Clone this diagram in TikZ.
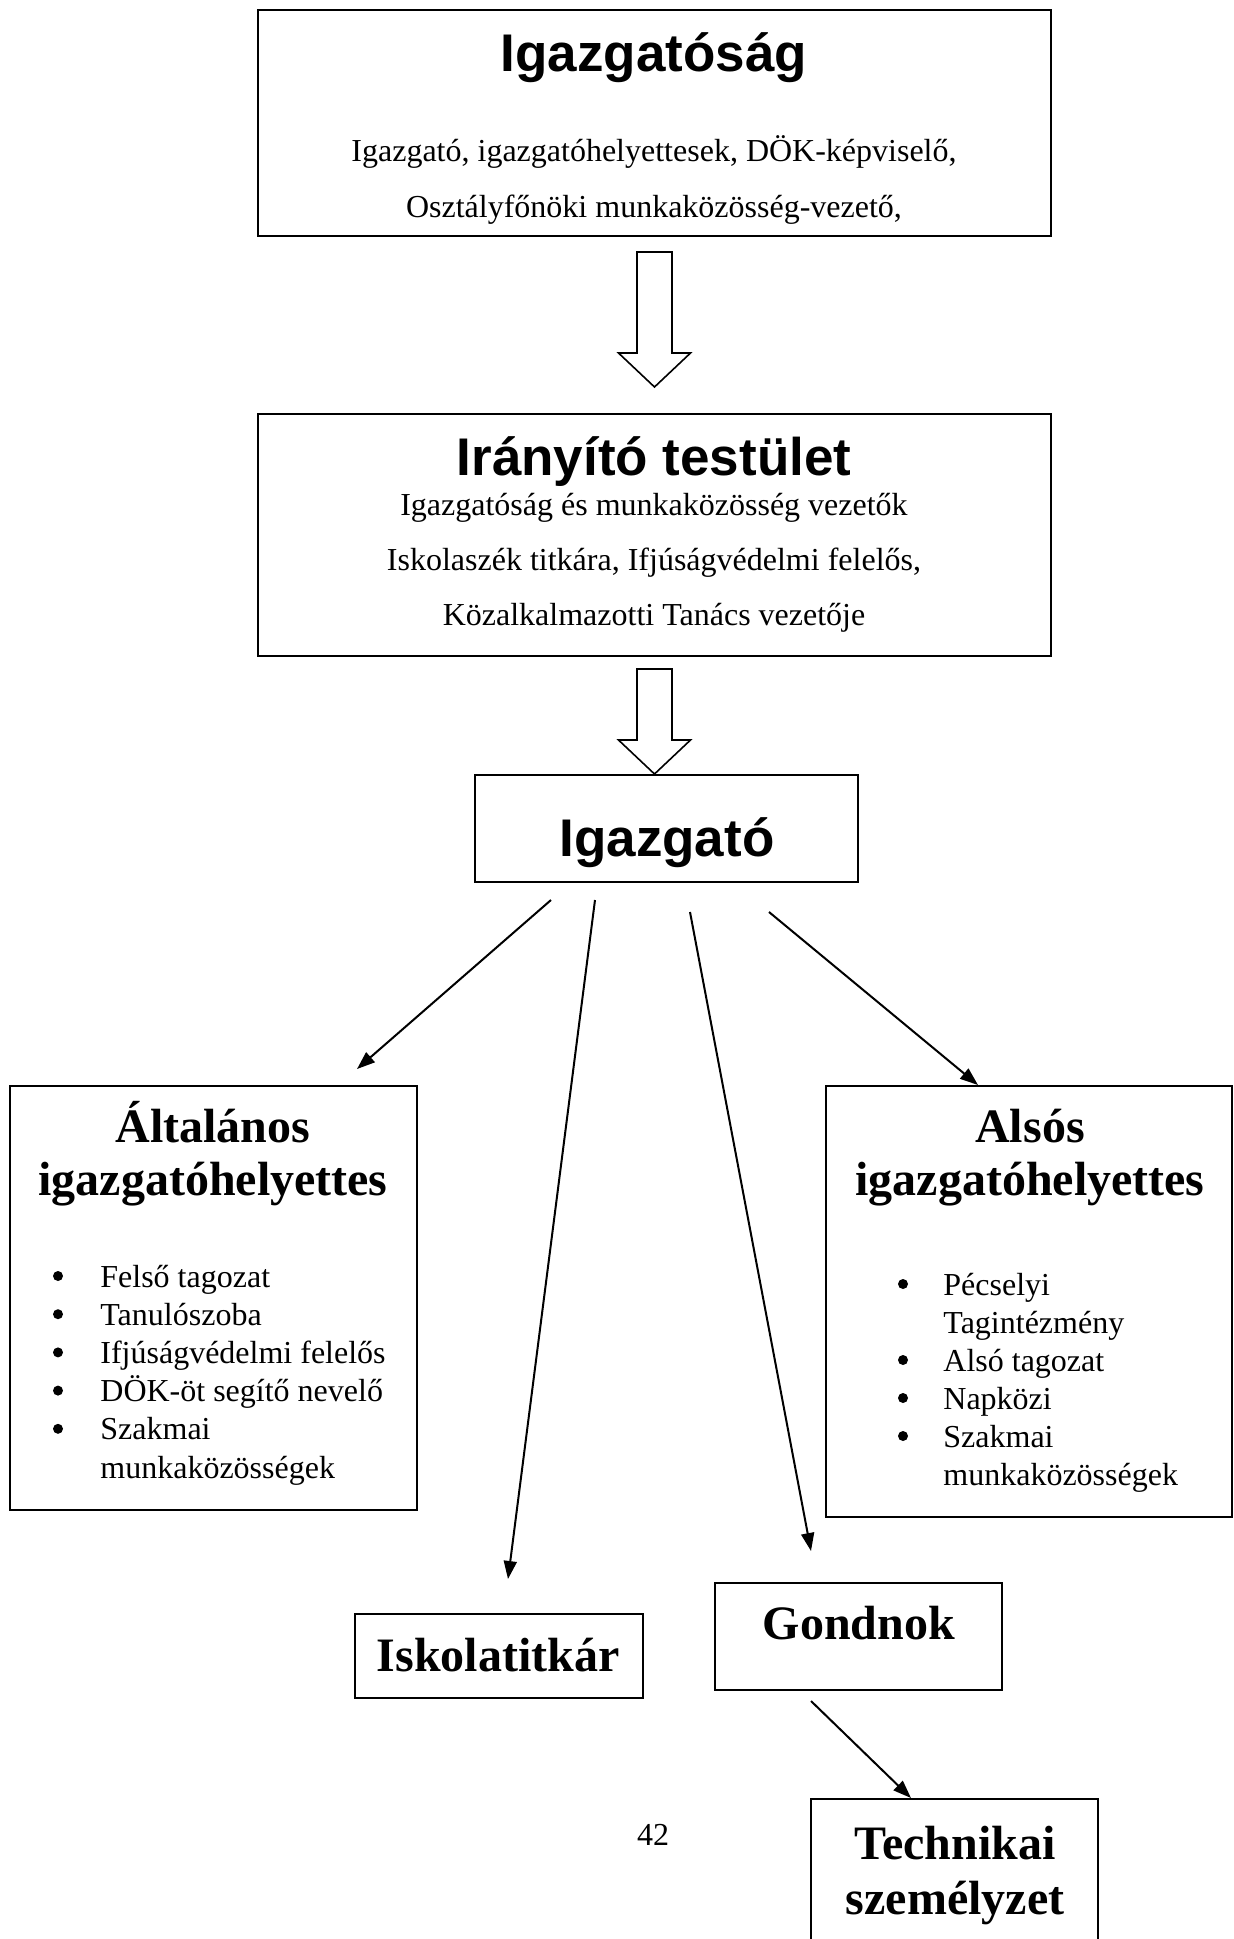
\documentclass[tikz,border=0pt]{standalone}
\usepackage{fontspec}
\setmainfont{Liberation Serif}
\setsansfont{Liberation Sans}
\usetikzlibrary{arrows.meta, calc, fit}

\tikzset{
  box/.style={draw, line width=1pt, inner sep=0pt},
  hollow/.style={draw, line width=0.8pt, fill=white, line join=miter},
  arr/.style={line width=1pt, -{Triangle[length=9pt,width=6.5pt]}},
  dot/.style={circle, fill, inner sep=0pt, minimum size=5pt},
  sanstitle/.style={font=\sffamily\bfseries\fontsize{26.5}{30}\selectfont, inner sep=0pt, anchor=base},
  sertitle/.style={font=\bfseries\fontsize{24}{28}\selectfont, inner sep=0pt, anchor=base},
  body/.style={font=\fontsize{16}{19}\selectfont, inner sep=0pt, anchor=base},
}

\begin{document}
\begin{tikzpicture}[x=0.5pt, y=-0.5pt]
\useasboundingbox (0,0) rectangle (1234,1939);
\clip (0,0) rectangle (1234,1939);

% Boxes
\node[box, fit={(258,10) (1051,236)}] (igsag) {};
\node[box, fit={(258,414) (1051,656)}] (irany) {};
\node[box, fit={(475,775) (858,882)}] (igaz) {};
\node[box, fit={(10,1086) (417,1510)}] (alt) {};
\node[box, fit={(826,1086) (1232,1517)}] (also) {};
\node[box, fit={(355,1614) (643,1698)}] (iskt) {};
\node[box, fit={(715,1583) (1002,1690)}] (gond) {};
\node[box, fit={(811,1799) (1098,1990)}] (tech) {};

% Texts
\node[sanstitle] (igsagT) at (654,71) {Igazgatóság};
\node[body] (igsagL1) at (654,161) {Igazgató, igazgatóhelyettesek, DÖK-képviselő,};
\node[body] (igsagL2) at (654,217) {Osztályfőnöki munkaközösség-vezető,};

\node[sanstitle] (iranyT) at (654,475) {Irányító testület};
\node[body] (iranyL1) at (654,515) {Igazgatóság és munkaközösség vezetők};
\node[body] (iranyL2) at (654,570) {Iskolaszék titkára, Ifjúságvédelmi felelős,};
\node[body] (iranyL3) at (654,625) {Közalkalmazotti Tanács vezetője};

\node[sanstitle] (igazT) at (667,856) {Igazgató};

\node[sertitle] (altT1) at (213,1142) {Általános};
\node[sertitle] (altT2) at (213,1195) {igazgatóhelyettes};
\node[sertitle] (alsoT1) at (1030,1142) {Alsós};
\node[sertitle] (alsoT2) at (1030,1195) {igazgatóhelyettes};

% Lists
\foreach \t [count=\i from 0] in {Felső tagozat, Tanulószoba, Ifjúságvédelmi felelős, DÖK-öt segítő nevelő, Szakmai, munkaközösségek}
  \node[body, anchor=base west] (altI\i) at (100,{1287+38.2*\i}) {\t};
\foreach \i in {0,...,4}
  \node[dot] (altB\i) at (58,{1276+38.2*\i}) {};

\foreach \t [count=\i from 0] in {Pécselyi, Tagintézmény, Alsó tagozat, Napközi, Szakmai, munkaközösségek}
  \node[body, anchor=base west] (alsoI\i) at (943,{1295+38*\i}) {\t};
\foreach \i in {0,2,3,4}
  \node[dot] (alsoB\i) at (903,{1284+38*\i}) {};

\node[sertitle] (isktT) at (498,1671) {Iskolatitkár};
\node[sertitle] (gondT) at (859,1639) {Gondnok};
\node[sertitle] (techT1) at (955,1859) {Technikai};
\node[sertitle] (techT2) at (955,1914) {személyzet};

\node[body] (pnum) at (653,1845) {42};

% Block arrows
\coordinate (a1s) at ($(igsag.south)+(0,15)$);
\coordinate (a1t) at ($(irany.north)+(0,-26)$);
\coordinate (a2s) at ($(irany.south)+(0,12)$);
\coordinate (a2t) at (irany.south |- igaz.north);
\foreach \s/\t in {a1s/a1t, a2s/a2t}
  \draw[hollow] ($(\s)+(-17.5,0)$) -- ($(\t)+(-17.5,-34)$) -- ($(\t)+(-36,-34)$) -- (\t)
    -- ($(\t)+(36,-34)$) -- ($(\t)+(17.5,-34)$) -- ($(\s)+(17.5,0)$) -- cycle;

% Arrows
\draw[arr] ([shift={(-115.5,17)}]igaz.south) -- ([shift={(143.5,-16)}]alt.north);
\draw[arr] ([shift={(-71.5,17)}]igaz.south) -- ([shift={(9,-34)}]iskt.north);
\draw[arr] ([shift={(23.5,29)}]igaz.south) -- ([shift={(-47.5,-31)}]gond.north);
\draw[arr] ([shift={(102.5,29)}]igaz.south) -- ([shift={(-51,0)}]also.north);
\draw[arr] ([shift={(-47.5,10)}]gond.south) -- ([shift={(-43.5,0)}]tech.north);
\end{tikzpicture}
\end{document}
